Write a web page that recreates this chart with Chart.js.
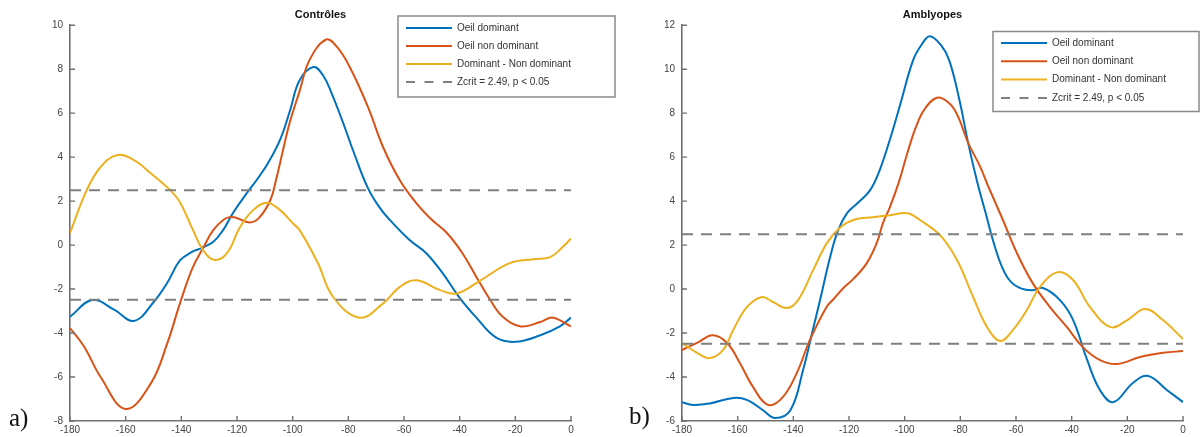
<!DOCTYPE html>
<html><head><meta charset="utf-8">
<script src="https://cdn.jsdelivr.net/npm/chart.js@4/dist/chart.umd.min.js"></script>
<style>
html,body{margin:0;padding:0;background:#fff;}
#wrap{position:relative;width:1202px;height:437px;overflow:hidden;background:#fff;}
canvas{position:absolute;top:0;}
#ca{left:0;width:640px;height:437px;}
#cb{left:601px;width:601px;height:437px;}
.lab{position:absolute;font-family:"Liberation Serif",serif;font-size:25px;line-height:25px;color:#111;}
</style></head><body>
<div id="wrap">
<canvas id="ca" width="640" height="437"></canvas>
<canvas id="cb" width="601" height="437"></canvas>
<div class="lab" style="left:9px;top:405px">a)</div>
<div class="lab" style="left:629px;top:403px">b)</div>
</div>
<script>
// ---- data ----
const titles = ['Contrôles', 'Amblyopes'];
const seriesLabels = ['Oeil dominant', 'Oeil non dominant', 'Dominant - Non dominant'];
const zcritLabel = 'Zcrit = 2.49, p < 0.05';
const zcrit = 2.49;
const zcritSpan = [-180, 0];
const xTicks = [-180, 0, 20];          // min, max, step
const yTicksA = [-8, 10, 2];
const yTicksB = [-6, 12, 2];

// a) Contrôles
const ctrlDomX = [-180,-172,-164,-157,-150,-145,-140.5,-136,-133,-128.5,-125,-121.5,-116.5,-113,-109,-104.5,-101,-97.5,-92.5,-89,-86,-82,-78,-73,-69,-65.5,-58,-52,-46,-40,-34,-27,-20,-11,-4,0];
const ctrlDomY = [-3.26,-2.5,-2.95,-3.45,-2.6,-1.7,-0.7,-0.3,-0.15,0.15,0.68,1.45,2.36,2.95,3.7,4.8,6.1,7.5,8.1,7.7,6.9,5.6,4.2,2.6,1.75,1.2,0.23,-0.37,-1.3,-2.4,-3.3,-4.2,-4.4,-4.1,-3.7,-3.3];

const ctrlNonDomX = [-180,-175,-169,-160,-151,-145,-140.5,-136,-132,-128.5,-124,-121,-115.5,-112,-108,-106,-103.5,-101,-97.5,-94,-88,-84,-79.5,-73,-67.5,-61.5,-55.5,-50,-44.5,-39,-34,-29,-24.5,-18,-11,-6.5,0];
const ctrlNonDomY = [-3.77,-4.6,-6.0,-7.45,-6.3,-4.45,-2.65,-1.05,-0.09,0.68,1.22,1.27,1.03,1.25,2.05,2.95,4.3,5.6,7.0,8.4,9.35,9.0,8.1,6.3,4.45,2.95,1.9,1.15,0.54,-0.37,-1.45,-2.5,-3.26,-3.7,-3.5,-3.3,-3.7];

const ctrlDiffX = [-180,-174,-169,-163,-157,-151,-144,-140.5,-135.8,-132.2,-128,-123.6,-118.9,-114.2,-109.2,-104.5,-100,-97.5,-91,-85.5,-76,-67.5,-61.5,-55.5,-47,-41,-32.5,-22,-13.5,-7.5,-3,0];
const ctrlDiffY = [0.55,2.5,3.55,4.1,3.86,3.27,2.5,1.95,0.68,-0.23,-0.68,-0.37,0.82,1.59,1.93,1.59,1.0,0.68,-0.8,-2.35,-3.3,-2.65,-1.9,-1.6,-2.05,-2.2,-1.6,-0.82,-0.64,-0.55,-0.09,0.3];

// b) Amblyopes
const amblDomX = [-180,-176,-170,-161.5,-156.5,-151,-146.5,-141,-136.5,-133,-130.4,-126.8,-123.9,-120.7,-117,-112.4,-109,-105.3,-101.7,-97,-94,-91,-87,-84,-80.5,-77.2,-74,-71,-68,-65,-62,-58,-54,-50.3,-44.2,-39.5,-34.5,-29.8,-25,-18,-12.5,-5.7,0];
const amblDomY = [-5.15,-5.27,-5.2,-4.95,-5.05,-5.5,-5.86,-5.5,-3.68,-1.86,-0.5,1.45,2.68,3.45,3.9,4.5,5.4,6.8,8.35,10.4,11.1,11.5,11.1,10.4,8.7,6.65,4.9,3.5,2.1,1.0,0.35,0.02,-0.05,0.05,-0.5,-1.4,-3.2,-4.6,-5.14,-4.27,-3.95,-4.6,-5.14];

const amblNonDomX = [-180,-174.6,-169,-163.8,-159.2,-154.5,-149,-143.7,-138.7,-134,-128,-125.5,-122,-118.5,-113.6,-110,-107.8,-105.3,-102,-99,-96,-93,-88.4,-84,-81,-77.2,-73,-70.4,-64.7,-59.7,-54,-47.8,-41.7,-36,-29.8,-23.7,-15.4,-7.2,0];
const amblNonDomY = [-2.77,-2.45,-2.1,-2.45,-3.36,-4.45,-5.27,-4.9,-3.8,-2.3,-0.8,-0.45,0.05,0.45,1.18,2.1,3.0,3.73,4.9,6.2,7.35,8.15,8.7,8.45,7.9,6.65,5.6,4.8,3.14,1.64,0.27,-0.82,-1.73,-2.64,-3.23,-3.41,-3.09,-2.9,-2.82];

const amblDiffX = [-180,-174.6,-170,-165.2,-161.6,-156.7,-151.3,-147.3,-142.3,-138.3,-132.9,-127.9,-123.2,-118.5,-111.3,-105.3,-99,-94.5,-87.3,-81.2,-75.4,-70.4,-65.7,-61.1,-56.1,-51.4,-45,-39.5,-33.4,-26,-20,-13.6,-7.2,0];
const amblDiffY = [-2.45,-2.9,-3.14,-2.77,-1.86,-0.82,-0.36,-0.59,-0.86,-0.5,0.86,2.1,2.8,3.14,3.27,3.36,3.45,3.14,2.45,1.32,-0.36,-1.73,-2.36,-1.86,-0.95,0.1,0.77,0.41,-0.82,-1.73,-1.41,-0.91,-1.41,-2.27];

// ---- styles ----
const colors = ['#0072BD', '#D95319', '#EDB120'];
const gray = '#7f7f7f';
const axisColor = '#707070';
const tickFont = {family: '"Liberation Sans", Arial, sans-serif', size: 10};

const zip = (xs, ys) => xs.map((x, i) => ({x, y: ys[i]}));

function buildDatasets(series) {
  const ds = series.map((s, i) => ({
    label: seriesLabels[i], data: zip(s[0], s[1]),
    borderColor: colors[i], borderWidth: 2, pointRadius: 0,
    tension: 0.4, fill: false, order: 3 - i
  }));
  [zcrit, -zcrit].forEach((v, k) => ds.push({
    label: zcritLabel, data: zcritSpan.map(x => ({x, y: v})),
    borderColor: gray, borderWidth: 2, borderDash: [11, 8], pointRadius: 0,
    fill: false, order: 0, hideInLegend: k === 1
  }));
  return ds;
}

const inwardTicks = {
  id: 'inwardTicks',
  afterDraw(chart, args, o) {
    const {ctx, chartArea: a, scales: {x, y}} = chart;
    ctx.save(); ctx.strokeStyle = o.color; ctx.lineWidth = o.width;
    ctx.beginPath();
    x.ticks.forEach(t => { const p = x.getPixelForValue(t.value); ctx.moveTo(p, a.bottom); ctx.lineTo(p, a.bottom - o.len); });
    y.ticks.forEach(t => { const p = y.getPixelForValue(t.value); ctx.moveTo(a.left, p); ctx.lineTo(a.left + o.len, p); });
    ctx.stroke(); ctx.restore();
  }
};

const boxLegend = {
  id: 'boxLegend',
  afterDraw(chart, args, o) {
    const ctx = chart.ctx;
    ctx.save();
    ctx.fillStyle = '#fff';
    ctx.fillRect(o.left, o.top, o.width, o.height);
    ctx.strokeStyle = o.border; ctx.lineWidth = o.borderWidth;
    ctx.strokeRect(o.left, o.top, o.width, o.height);
    const items = chart.data.datasets.filter(d => !d.hideInLegend);
    items.forEach((d, i) => {
      const yy = o.top + o.rowTop + i * o.rowStep;
      ctx.beginPath();
      ctx.setLineDash(d.borderDash ? o.sampleDash : []);
      ctx.strokeStyle = d.borderColor; ctx.lineWidth = d.borderWidth;
      ctx.moveTo(o.left + o.sampleX0, yy); ctx.lineTo(o.left + o.sampleX1, yy); ctx.stroke();
      ctx.setLineDash([]);
      ctx.fillStyle = o.color; ctx.font = o.font; ctx.textBaseline = 'middle'; ctx.textAlign = 'left';
      ctx.fillText(d.label, o.left + o.textX, yy);
    });
    ctx.restore();
  }
};

function makeChart(id, title, series, yT, yWidth, padRight, legendPos) {
  return new Chart(document.getElementById(id), {
    type: 'line',
    data: {datasets: buildDatasets(series)},
    plugins: [inwardTicks, boxLegend],
    options: {
      responsive: false, animation: false, devicePixelRatio: 1,
      layout: {padding: {left: 0, right: padRight, top: 0, bottom: 0}},
      scales: {
        x: {
          type: 'linear', min: xTicks[0], max: xTicks[1],
          ticks: {stepSize: xTicks[2], font: tickFont, color: '#444', padding: 3, maxRotation: 0},
          grid: {display: false, drawTicks: false},
          border: {display: true, color: axisColor, width: 1.6},
          afterFit: s => { s.height = 16; }
        },
        y: {
          min: yT[0], max: yT[1],
          ticks: {stepSize: yT[2], font: tickFont, color: '#444', padding: 7},
          grid: {display: false, drawTicks: false},
          border: {display: true, color: axisColor, width: 1.6},
          afterFit: s => { s.width = yWidth; }
        }
      },
      plugins: {
        legend: {display: false},
        tooltip: {enabled: false},
        title: {
          display: true, text: title, fullSize: false, color: '#111',
          font: {family: '"Liberation Sans", Arial, sans-serif', size: 11, weight: 'bold'},
          padding: {top: 8, bottom: 4}
        },
        inwardTicks: {color: axisColor, width: 1.4, len: 5},
        boxLegend: Object.assign({
          border: '#8a8a8a', borderWidth: 1.5, rowTop: 12, rowStep: 18,
          sampleX0: 8, sampleX1: 54, textX: 59, sampleDash: [9, 9.5],
          color: '#333', font: '10px "Liberation Sans", Arial, sans-serif'
        }, legendPos)
      }
    }
  });
}

makeChart('ca', titles[0],
  [[ctrlDomX, ctrlDomY], [ctrlNonDomX, ctrlNonDomY], [ctrlDiffX, ctrlDiffY]],
  yTicksA, 70, 69, {left: 398, top: 16, width: 217, height: 81});
makeChart('cb', titles[1],
  [[amblDomX, amblDomY], [amblNonDomX, amblNonDomY], [amblDiffX, amblDiffY]],
  yTicksB, 81, 19, {left: 392, top: 31.5, width: 206, height: 80, rowTop: 11.5, rowStep: 18.3});
</script>
</body></html>
